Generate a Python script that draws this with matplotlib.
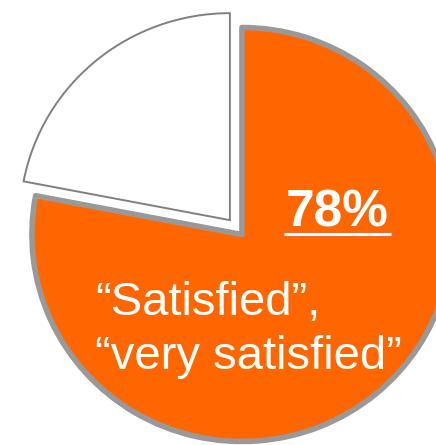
import matplotlib
matplotlib.use("Agg")
import matplotlib.pyplot as plt

# Share of respondents
categories = ["Satisfied / very satisfied", "Other"]
shares = [78, 22]
headline = "78%"
label_lines = ["\u201cSatisfied\u201d,", "\u201cvery satisfied\u201d"]

ORANGE = "#FF6600"
EDGE_THICK = "#999999"
EDGE_THIN = "#808080"

plt.rcParams["font.family"] = ["Liberation Sans", "DejaVu Sans"]

fig = plt.figure(figsize=(4.36, 4.45), dpi=100)
ax = fig.add_axes([0, 0, 1, 1])

wedges, _ = ax.pie(
    shares,
    colors=[ORANGE, "white"],
    startangle=90,
    counterclock=False,
    explode=[0, 0.09],
    radius=1.0,
)
wedges[0].set_edgecolor(EDGE_THICK)
wedges[0].set_linewidth(4.0)
wedges[0].set_joinstyle("round")
wedges[1].set_edgecolor(EDGE_THIN)
wedges[1].set_linewidth(1.4)
wedges[1].set_zorder(3)

# view window: pie spills past the right and bottom edges,
# slightly wider than tall
ax.set_xlim(-1.152, 0.924)
ax.set_ylim(-1.017, 1.133)
ax.set_aspect("auto")
ax.axis("off")

# headline value with underline
ax.text(0.452, 0.0386, headline, ha="center", va="baseline",
        fontsize=37, fontweight="bold", color="white", zorder=5)
ax.plot([0.200, 0.7095], [0.0048, 0.0048], color="white", lw=2.2,
        solid_capstyle="butt", zorder=5)

# description
for line, y in zip(label_lines, [-0.3865, -0.652]):
    ax.text(-0.700, y, line, ha="left", va="baseline",
            fontsize=34, color="white", zorder=5)

fig.savefig("out.png", dpi=100)
